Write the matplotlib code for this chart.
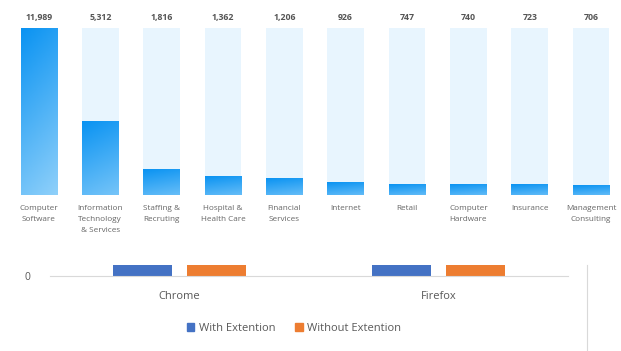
import numpy as np
import matplotlib
matplotlib.use("Agg")
import matplotlib.pyplot as plt
from matplotlib.colors import LinearSegmentedColormap
from matplotlib.patches import Rectangle
from matplotlib.lines import Line2D

# top chart data
industries = ["Computer\nSoftware", "Information\nTechnology\n& Services", "Staffing &\nRecruting",
              "Hospital &\nHealth Care", "Financial\nServices", "Internet", "Retail",
              "Computer\nHardware", "Insurance", "Management\nConsulting"]
counts = [11989, 5312, 1816, 1362, 1206, 926, 747, 740, 723, 706]

# bottom chart data
browsers = ["Chrome", "Firefox"]
with_ext = [1, 1]
without_ext = [1, 1]

W, H = 621, 351
fig = plt.figure(figsize=(W / 100, H / 100), dpi=100)
plt.rcParams['font.family'] = ['Open Sans', 'DejaVu Sans']

def px_axes(x0, x1, ytop, ybot):
    return fig.add_axes([x0 / W, (H - ybot) / H, (x1 - x0) / W, (ybot - ytop) / H])

# --- top chart ---
ax = px_axes(8.3, 621.7, 28, 195)
n = len(counts)
xs = np.arange(n)
bw = 0.6
vmax = max(counts)
ax.bar(xs, [vmax] * n, width=bw, color="#e8f5fe", zorder=1)

cmap = LinearSegmentedColormap.from_list("grad", ["#8fd0fa", "#0a93f2"])
gy, gx = np.mgrid[0:1:100j, 0:1:30j]
grad = 0.8 * gy + 0.2 * (1 - gx)
for x, v, lab in zip(xs, counts, industries):
    frac = v / vmax
    # short bars keep more of the dark end of the gradient
    lo = -0.7 * (1 - frac ** 0.5)
    ax.imshow(grad, cmap=cmap, origin="lower", aspect="auto", vmin=lo, vmax=1,
              extent=(x - bw / 2, x + bw / 2, 0, v), zorder=2)
    ax.annotate(f"{v:,}", (x, vmax), xytext=(0, 7.8), textcoords="offset points",
                ha="center", va="center", fontsize=6.3, fontweight="bold", color="#555555")
    ax.annotate(lab, (x, 0), xytext=(0, -7.2), textcoords="offset points",
                ha="center", va="top", fontsize=5.9, color="#666666", linespacing=1.75)

ax.set_xlim(-0.5, n - 0.5)
ax.set_ylim(0, vmax)
ax.axis("off")

# --- bottom chart ---
ax2 = px_axes(50, 568, 265, 276)
bx = np.arange(len(browsers))
w2 = 0.228
ax2.bar(bx - 0.143, with_ext, width=w2, color="#4472c4", label="With Extention", zorder=2)
ax2.bar(bx + 0.143, without_ext, width=w2, color="#ed7d31", label="Without Extention", zorder=2)
ax2.set_xlim(-0.5, 1.5)
ax2.set_ylim(0, 1)
for s in ["top", "right", "left"]:
    ax2.spines[s].set_visible(False)
ax2.spines["bottom"].set_color("#d9d9d9")
ax2.spines["bottom"].set_linewidth(0.8)
ax2.set_yticks([0])
ax2.set_yticklabels(["0"], fontsize=7.5, color="#595959")
ax2.tick_params(axis="y", length=0, pad=14)
ax2.set_xticks(bx)
ax2.set_xticklabels(browsers, fontsize=8, color="#595959")
ax2.tick_params(axis="x", length=0, pad=11)

fig.legend(handles=[Rectangle((0, 0), 1, 1, color="#4472c4"),
                    Rectangle((0, 0), 1, 1, color="#ed7d31")],
           labels=["With Extention", "Without Extention"],
           loc="center", bbox_to_anchor=(294 / W, (H - 328.5) / H), ncol=2, frameon=False,
           fontsize=8, handlelength=0.7, handleheight=0.7, handletextpad=0.4,
           columnspacing=1.8, labelcolor="#595959")

fig.add_artist(Line2D([587 / W, 587 / W], [0, (H - 265) / H], color="#d9d9d9", lw=0.8))

fig.savefig("out.png", dpi=100)
